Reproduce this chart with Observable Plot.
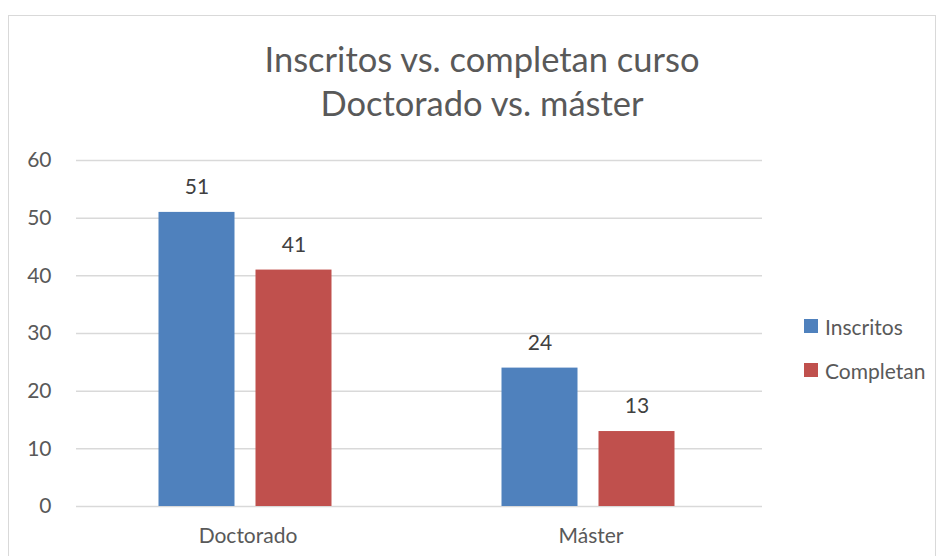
<!DOCTYPE html>
<html>
<head>
<meta charset="utf-8">
<script src="https://cdn.jsdelivr.net/npm/d3@7"></script>
<script src="https://cdn.jsdelivr.net/npm/@observablehq/plot@0.6"></script>
<style>
  html, body { margin: 0; padding: 0; background: #fff; }
  body { width: 941px; height: 556px; position: relative; overflow: hidden; font-family: Lato, "Open Sans", sans-serif; color: #595959; }
  #frame { position: absolute; left: 8px; top: 15px; width: 928px; height: 600px; border: 1.5px solid #d9d9d9; box-sizing: border-box; }
  #title { position: absolute; left: 0; width: 964px; top: 37px; text-align: center; font-size: 34.5px; line-height: 44px; color: #595959; }
  #chart { position: absolute; left: 0; top: 0; }
  #legend { position: absolute; left: 804px; top: 313px; font-size: 21px; color: #595959; }
  .item { display: flex; align-items: center; height: 26px; margin-bottom: 18px; }
  .sw { width: 14px; height: 14px; margin-right: 7px; }
</style>
</head>
<body>
<div id="frame"></div>
<div id="title">Inscritos vs. completan curso<br>Doctorado vs. máster</div>
<div id="chart"></div>
<div id="legend"></div>
<script>
const categories = ["Doctorado", "Máster"];
const series = ["Inscritos", "Completan"];
const inscritos = [51, 24];
const completan = [41, 13];
const yTicks = [0, 10, 20, 30, 40, 50, 60];
const colors = ["#4f81bd", "#c0504d"];

const data = [];
categories.forEach((c, i) => {
  data.push({cat: c, serie: "Inscritos", value: inscritos[i]});
  data.push({cat: c, serie: "Completan", value: completan[i]});
});

const chart = Plot.plot({
  width: 941,
  height: 556,
  marginLeft: 75,
  marginRight: 179,
  marginTop: 160,
  marginBottom: 50,
  style: {fontFamily: "Lato, 'Open Sans', sans-serif", fontSize: "21px", color: "#595959", background: "transparent"},
  fx: {domain: categories, padding: 0, axis: "bottom", tickSize: 0, tickPadding: 22, label: null},
  x: {domain: series, paddingInner: 0.214, paddingOuter: 0.86, axis: null},
  y: {domain: [0, 60], ticks: yTicks, tickSize: 0, tickPadding: 25, label: null},
  color: {domain: series, range: colors},
  marks: [
    Plot.ruleY(yTicks, {stroke: "#d9d9d9", strokeWidth: 1.5}),
    Plot.barY(data, {fx: "cat", x: "serie", y: "value", fill: "serie", dx: -2.5}),
    Plot.text(data, {fx: "cat", x: "serie", y: "value", text: d => String(d.value), dx: -2.5, dy: -25, fill: "#404040", fontSize: 21})
  ]
});
document.getElementById("chart").appendChild(chart);

const legend = document.getElementById("legend");
series.forEach((s, i) => {
  const it = document.createElement("div");
  it.className = "item";
  it.innerHTML = `<span class="sw" style="background:${colors[i]}"></span><span>${s}</span>`;
  legend.appendChild(it);
});
</script>
</body>
</html>
